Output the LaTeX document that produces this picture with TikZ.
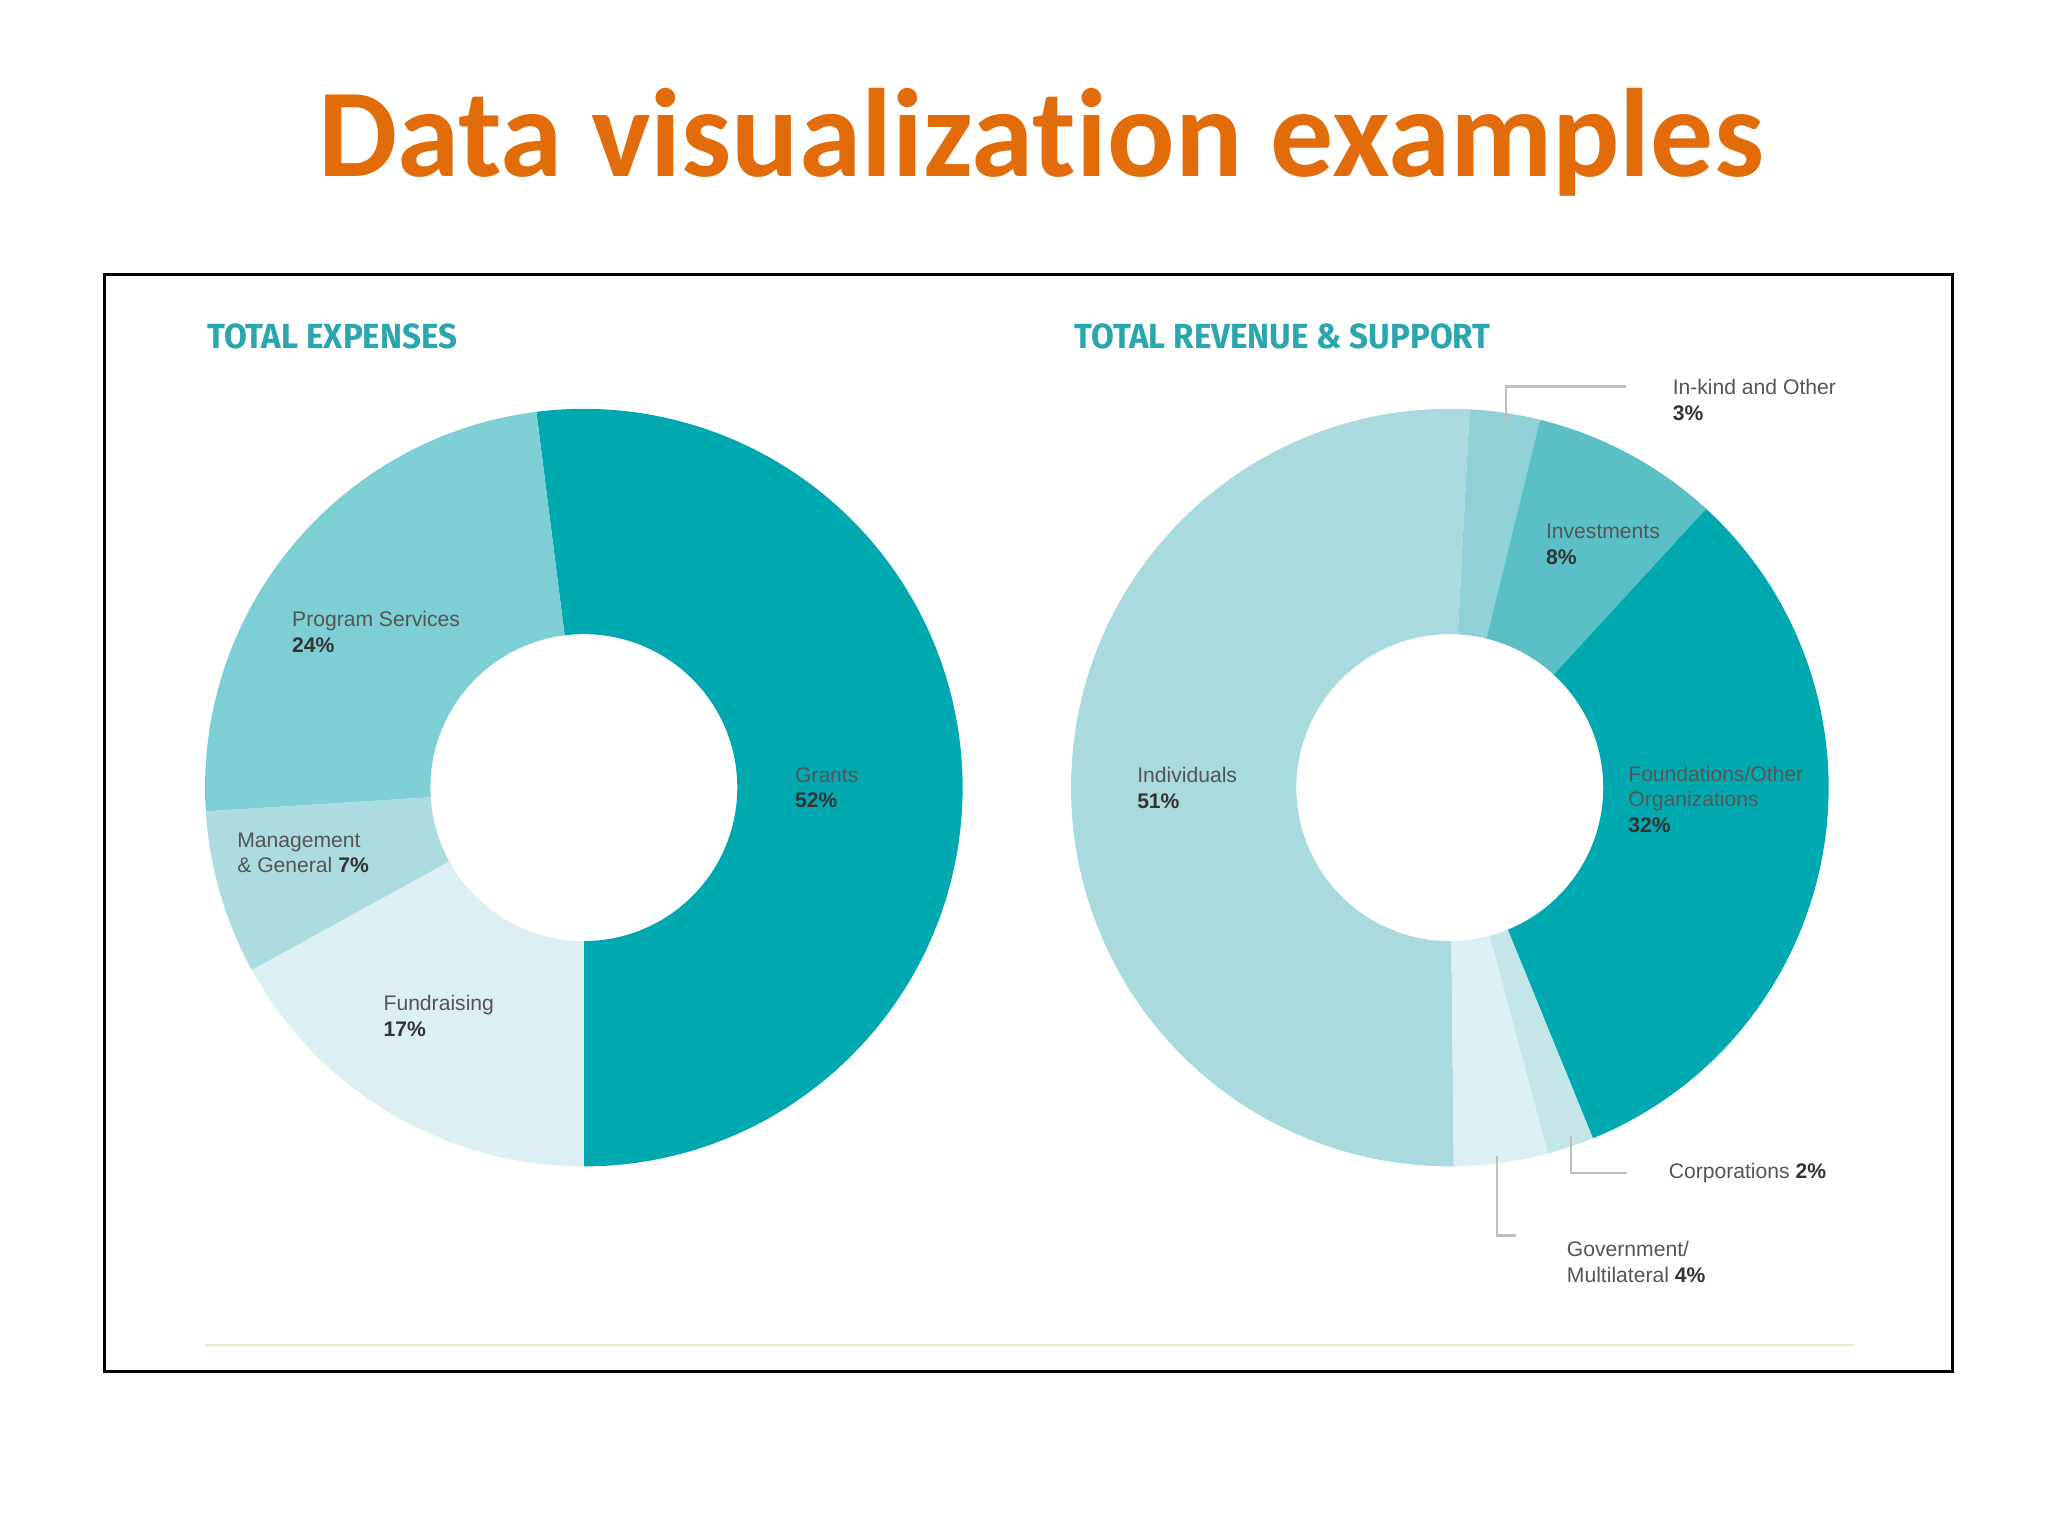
\documentclass[tikz,border=0pt]{standalone}
\usepackage{fontspec}
\setmainfont{Liberation Sans}
\newfontfamily\titlefont[Ligatures=NoCommon]{Carlito}
\newfontfamily\headfont{Fira Sans}
\definecolor{ttl}{HTML}{E36C0A}
\definecolor{hd}{HTML}{2AA6AE}
\definecolor{cA}{HTML}{00A9B0}
\definecolor{cB}{HTML}{7ECFD3}
\definecolor{cC}{HTML}{ACDCDF}
\definecolor{cD}{HTML}{DCEFF2}
\definecolor{cE}{HTML}{A9DBDE}
\definecolor{cF}{HTML}{8FD1D5}
\definecolor{cG}{HTML}{5BC0C6}
\definecolor{cH}{HTML}{C4E6E9}
\definecolor{lbl}{HTML}{555555}
\definecolor{pct}{HTML}{333333}
\usetikzlibrary{calc}
\newcommand{\myslice}[5]{% cx cy a1 a2 color (angles counterclockwise on screen)
  \fill[#5] (#1,#2) ++(-#3:290) arc[start angle=-#3,end angle=-#4,radius=290] -- ($(#1,#2)+(-#4:117.5)$) arc[start angle=-#4,end angle=-#3,radius=117.5] -- cycle;}
\tikzset{lab/.style={anchor=west,inner sep=0,font=\fontsize{4.6}{5.6}\selectfont,text=lbl,align=left},
leader/.style={draw=gray!50,line width=0.5pt}}
\begin{document}
\begin{tikzpicture}[x=0.1mm,y=-0.1mm]
\useasboundingbox (0,0) rectangle (1568,1176);
\fill[white] (0,0) rectangle (1568,1176);
\node[font=\titlefont\bfseries\fontsize{27.4}{32}\selectfont,text=ttl,anchor=base] (title) at (797,135) {Data visualization examples};
\draw[line width=0.6pt] (80,210) rectangle (1495,1050);
\draw[color={rgb,255:red,240;green,230;blue,204},line width=0.5pt] (157,1030) -- (1420,1030);
\node[anchor=base west,inner sep=0,font=\headfont\bfseries\fontsize{7.6}{9}\selectfont,text=hd,xscale=0.95] (h1) at (158,267) {TOTAL EXPENSES};
\node[anchor=base west,inner sep=0,font=\headfont\bfseries\fontsize{7.6}{9}\selectfont,text=hd,xscale=0.95] (h2) at (822,267) {TOTAL REVENUE \& SUPPORT};
% left donut
\myslice{447}{603}{-90}{97.2}{cA}
\myslice{447}{603}{97.2}{183.6}{cB}
\myslice{447}{603}{183.6}{208.8}{cC}
\myslice{447}{603}{208.8}{270}{cD}
% right donut
\myslice{1110}{603}{87}{270.6}{cE}
\myslice{1110}{603}{76.2}{87}{cF}
\myslice{1110}{603}{47.4}{76.2}{cG}
\myslice{1110}{603}{-67.8}{47.4}{cA}
\myslice{1110}{603}{-75}{-67.8}{cH}
\myslice{1110}{603}{-89.4}{-75}{cD}
% labels
\node[lab] (ps) at (223,484) {Program Services\\\textcolor{pct}{\bfseries 24\%}};
\node[lab] (mg) at (181,653) {Management\\\& General \textcolor{pct}{\bfseries 7\%}};
\node[lab] (fr) at (293,778) {Fundraising\\\textcolor{pct}{\bfseries 17\%}};
\node[lab] (gr) at (608,603) {Grants\\\textcolor{pct}{\bfseries 52\%}};
\node[lab] (ind) at (870,603) {Individuals\\\textcolor{pct}{\bfseries 51\%}};
\node[lab] (inv) at (1183,417) {Investments\\\textcolor{pct}{\bfseries 8\%}};
\node[lab] (fo) at (1246,612) {Foundations/Other\\Organizations\\\textcolor{pct}{\bfseries 32\%}};
\node[lab] (ik) at (1280,306) {In-kind and Other\\\textcolor{pct}{\bfseries 3\%}};
\node[lab] (co) at (1277,898) {Corporations \textcolor{pct}{\bfseries 2\%}};
\node[lab] (go) at (1199,966) {Government/\\Multilateral \textcolor{pct}{\bfseries 4\%}};
\coordinate (ika) at (1153,328);
\coordinate (coa) at (1203,870);
\coordinate (goa) at (1146,885);
\draw[leader] (ika) |- ([xshift=-10]ik.west |- 0,296);
\draw[leader] (coa) |- ([xshift=-9]co.west);
\draw[leader] (goa) |- ([xshift=-11]go.west |- 0,946);
\end{tikzpicture}
\end{document}
